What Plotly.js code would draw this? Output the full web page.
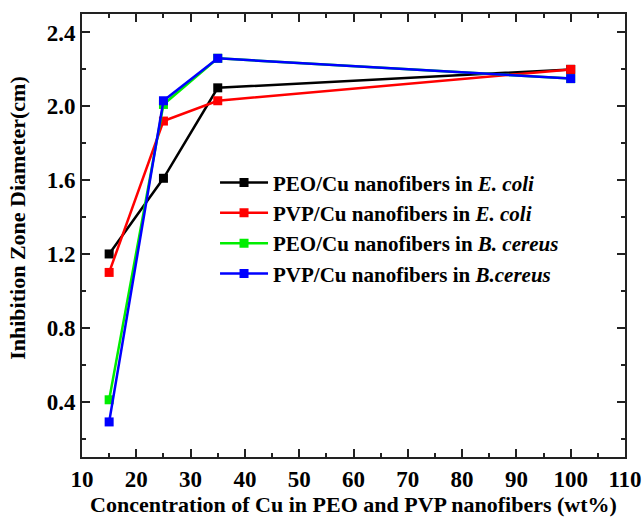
<!DOCTYPE html>
<html><head><meta charset="utf-8">
<script src="https://cdn.plot.ly/plotly-3.0.1.min.js"></script>
<style>body{margin:0;padding:0;background:#fff}#chart{width:644px;height:519px}</style>
</head><body><div id="chart"></div>
<script>
const conc = [15, 25, 35, 100];
const peoEcoli = [1.20, 1.61, 2.10, 2.20];
const pvpEcoli = [1.10, 1.92, 2.03, 2.20];
const peoBcereus = [0.41, 2.01, 2.26, 2.15];
const pvpBcereus = [0.29, 2.03, 2.26, 2.15];
const seriesNames = [
  'PEO/Cu nanofibers in <i>E. coli</i>',
  'PVP/Cu nanofibers in <i>E. coli</i>',
  'PEO/Cu nanofibers in <i>B. cereus</i>',
  'PVP/Cu nanofibers in <i>B.cereus</i>'
];
const colors = ['#000000', '#ff0000', '#00ee00', '#0000ff'];
const seriesData = [peoEcoli, pvpEcoli, peoBcereus, pvpBcereus];

const fam = 'Liberation Serif, Times New Roman, serif';
const traces = seriesData.map((ys, i) => ({
  x: conc, y: ys, name: seriesNames[i], type: 'scatter', mode: 'lines+markers',
  line: {color: colors[i], width: 2.5},
  marker: {symbol: 'square', size: 9, color: colors[i]}
}));

const layout = {
  width: 644, height: 519,
  margin: {l: 82, r: 19, t: 14, b: 62},
  paper_bgcolor: '#fff', plot_bgcolor: '#fff',
  font: {family: fam, size: 22, color: '#000', weight: 'bold'},
  showlegend: true,
  legend: {x: 0.245, y: 0.665, xanchor: 'left', yanchor: 'top', bgcolor: 'rgba(0,0,0,0)',
    itemwidth: 48, tracegroupgap: 0,
    font: {family: fam, size: 21, color: '#000', weight: 'bold'}},
  xaxis: {
    showline: true, linewidth: 2, linecolor: '#222', mirror: 'ticks',
    ticks: 'inside', ticklen: 8, tickwidth: 2, tickcolor: '#222',
    showgrid: false, zeroline: false,
    tickfont: {family: fam, size: 23, color: '#000', weight: 'bold'},
    range: [10, 110], tickmode: 'linear', tick0: 10, dtick: 10,
    minor: {ticks: 'inside', ticklen: 4, tickwidth: 2, tickcolor: '#222', dtick: 5, tick0: 10},
    title: {text: 'Concentration of Cu in PEO and PVP nanofibers (wt%)', standoff: 6,
      font: {family: fam, size: 22, color: '#000', weight: 'bold'}}
  },
  yaxis: {
    showline: true, linewidth: 2, linecolor: '#222', mirror: 'ticks',
    ticks: 'inside', ticklen: 8, tickwidth: 2, tickcolor: '#222',
    showgrid: false, zeroline: false,
    tickfont: {family: fam, size: 23, color: '#000', weight: 'bold'},
    range: [0.1, 2.5], tickmode: 'array', tickvals: [0.4, 0.8, 1.2, 1.6, 2.0, 2.4],
    ticktext: ['0.4', '0.8', '1.2', '1.6', '2.0', '2.4'],
    minor: {ticks: 'inside', ticklen: 4, tickwidth: 2, tickcolor: '#222', tickvals: [0.2, 0.6, 1.0, 1.4, 1.8, 2.2]}
  },
  annotations: [{
    text: 'Inhibition Zone Diameter(cm)', textangle: -90, showarrow: false,
    xref: 'paper', yref: 'paper', x: 0, y: 0.54, xanchor: 'center', yanchor: 'middle', xshift: -64,
    font: {family: fam, size: 22, color: '#000', weight: 'bold'}
  }]
};

Plotly.newPlot('chart', traces, layout, {displayModeBar: false});
</script>
</body></html>
